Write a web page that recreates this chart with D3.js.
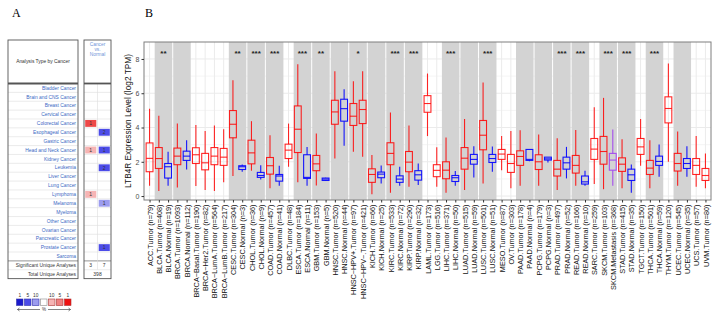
<!DOCTYPE html>
<html>
<head>
<meta charset="utf-8">
<script src="https://d3js.org/d3.v7.min.js"></script>
<style>
  body { margin: 0; background: #fff; }
  svg { display: block; font-family: "Liberation Sans", Arial, sans-serif; }
</style>
</head>
<body>
<div id="chart"></div>
<script>
// ---- panel B data: box stats per group (log2 TPM) ----
var categories = ["ACC.Tumor (n=79)", "BLCA.Tumor (n=408)", "BLCA.Normal (n=19)", "BRCA.Tumor (n=1093)", "BRCA.Normal (n=112)",
  "BRCA\u2212Basal.Tumor (n=190)", "BRCA\u2212Her2.Tumor (n=82)", "BRCA\u2212LumA.Tumor (n=564)", "BRCA\u2212LumB.Tumor (n=217)",
  "CESC.Tumor (n=304)", "CESC.Normal (n=3)", "CHOL.Tumor (n=36)", "CHOL.Normal (n=9)", "COAD.Tumor (n=457)", "COAD.Normal (n=41)",
  "DLBC.Tumor (n=48)", "ESCA.Tumor (n=184)", "ESCA.Normal (n=11)", "GBM.Tumor (n=153)", "GBM.Normal (n=5)",
  "HNSC.Tumor (n=520)", "HNSC.Normal (n=44)", "HNSC\u2212HPV+.Tumor (n=97)", "HNSC\u2212HPV\u2212.Tumor (n=421)",
  "KICH.Tumor (n=66)", "KICH.Normal (n=25)", "KIRC.Tumor (n=533)", "KIRC.Normal (n=72)", "KIRP.Tumor (n=290)", "KIRP.Normal (n=32)",
  "LAML.Tumor (n=173)", "LGG.Tumor (n=516)", "LIHC.Tumor (n=371)", "LIHC.Normal (n=50)", "LUAD.Tumor (n=515)", "LUAD.Normal (n=59)",
  "LUSC.Tumor (n=501)", "LUSC.Normal (n=51)", "MESO.Tumor (n=87)", "OV.Tumor (n=303)", "PAAD.Tumor (n=178)", "PAAD.Normal (n=4)",
  "PCPG.Tumor (n=179)", "PCPG.Normal (n=3)", "PRAD.Tumor (n=497)", "PRAD.Normal (n=52)", "READ.Tumor (n=166)", "READ.Normal (n=10)",
  "SARC.Tumor (n=259)", "SKCM.Tumor (n=103)", "SKCM.Metastasis (n=368)", "STAD.Tumor (n=415)", "STAD.Normal (n=35)",
  "TGCT.Tumor (n=150)", "THCA.Tumor (n=501)", "THCA.Normal (n=59)", "THYM.Tumor (n=120)", "UCEC.Tumor (n=545)",
  "UCEC.Normal (n=35)", "UCS.Tumor (n=57)", "UVM.Tumor (n=80)"];
var groupType = ["T","T","N","T","N","T","T","T","T","T","N","T","N","T","N","T","T","N","T","N",
  "T","N","T","T","T","N","T","N","T","N","T","T","T","N","T","N","T","N","T","T","T","N",
  "T","N","T","N","T","N","T","T","M","T","N","T","T","N","T","T","N","T","T"];
var whiskerLow = [0.6,0.3,0.6,0.5,1.55,0.58,0.35,0.3,0.8,1.17,1.42,1.48,0.97,0.45,0.6,1.71,0.8,0.6,0.62,0.9,
  2.19,2.93,2.58,2.29,0.1,0.74,0.2,0.6,0.54,0.64,3.5,0.54,0.2,0.6,0.35,1.09,0.74,1.42,1.51,0.45,0.6,2.03,
  0.6,1.96,0.35,1.03,0.6,0.6,0.7,0.4,0.6,0.45,0.2,1.77,0.45,1.13,2.0,0.6,1.13,0.54,0.45];
var q1 = [1.42,1.61,1.05,1.83,2.08,1.9,1.53,1.83,1.79,3.4,1.55,1.88,1.09,1.28,0.87,2.19,2.54,1.03,1.48,0.91,
  4.19,4.37,4.12,4.23,0.8,1.07,1.83,0.8,1.42,0.93,4.89,1.13,1.01,0.85,1.57,1.86,2.7,1.96,2.14,1.38,1.79,2.08,
  1.55,2.1,1.17,1.57,1.34,0.7,2.14,1.86,1.51,1.44,0.91,2.43,1.26,1.79,4.27,1.46,1.61,1.26,0.91];
var median = [2.2,2.19,1.71,2.33,2.33,2.41,1.94,2.33,2.27,4.19,1.71,2.52,1.2,1.77,1.17,2.68,3.9,1.09,1.88,0.99,
  4.91,5.1,4.66,5.05,1.26,1.28,2.49,0.99,1.98,1.24,5.4,1.5,1.51,1.07,2.21,2.14,3.55,2.19,2.45,1.9,2.31,2.14,
  2.0,2.17,1.57,1.94,1.79,0.83,2.74,2.6,2.1,1.86,1.24,2.87,1.63,2.02,5.11,1.9,1.9,1.79,1.2];
var q3 = [3.1,2.83,1.9,2.8,2.62,2.82,2.49,2.83,2.78,4.99,1.77,3.26,1.38,2.25,1.26,3.03,5.26,2.41,2.37,1.05,
  5.59,5.65,5.4,5.59,1.59,1.4,3.11,1.18,2.6,1.48,5.86,1.83,2.0,1.2,2.83,2.43,4.41,2.43,2.72,2.43,2.64,2.72,
  2.41,2.27,2.08,2.27,2.37,1.17,3.36,3.48,2.49,2.23,1.57,3.36,2.08,2.33,5.79,2.49,2.19,2.19,1.61];
var whiskerHigh = [5.1,4.68,2.58,4.23,3.26,4.14,3.79,4.12,3.9,6.76,1.84,4.37,1.8,3.55,1.77,4.23,7.69,2.87,3.65,1.07,
  7.28,6.23,6.7,7.28,2.39,1.79,4.87,1.71,4.12,1.9,7.15,2.85,3.42,1.46,4.49,2.91,6.62,2.89,3.5,3.79,3.84,2.72,
  3.59,2.27,3.38,2.87,3.86,1.48,5.18,5.73,3.88,3.32,1.84,4.49,3.26,3.01,7.73,3.77,2.91,3.5,2.49];
// first group index of each compared pair (gray band) and the stars over it
var pairStart = [1,3,9,11,13,16,18,20,22,24,26,28,32,34,36,40,42,44,46,49,51,54,57];
var starPair = [1,9,11,13,16,18,22,26,28,32,36,44,46,49,51,54];
var starText = ["**","**","***","***","***","**","*","***","***","***","***","***","***","***","***","***"];
var yTicks = [0,2,4,6,8];

// ---- panel A data: Oncomine summary table ----
var cancerTypes = ["Bladder Cancer","Brain and CNS Cancer","Breast Cancer","Cervical Cancer","Colorectal Cancer",
  "Esophageal Cancer","Gastric Cancer","Head and Neck Cancer","Kidney Cancer","Leukemia","Liver Cancer","Lung Cancer",
  "Lymphoma","Melanoma","Myeloma","Other Cancer","Ovarian Cancer","Pancreatic Cancer","Prostate Cancer","Sarcoma"];
var upCounts   = [0,0,0,0,1,0,0,1,0,0,0,0,1,0,0,0,0,0,0,0];
var upShade    = [0,0,0,0,3,0,0,1,0,0,0,0,1,0,0,0,0,0,0,0];
var downCounts = [0,0,0,0,0,2,0,1,0,2,0,0,0,1,0,0,0,0,1,0];
var downShade  = [0,0,0,0,0,2,0,2,0,2,0,0,0,1,0,0,0,0,2,0];
var sigUnique = [3,7];
var totalUnique = 398;
var legendLabels = ["1","5","10","","10","5","1"];

var W = 721, H = 319;
var svg = d3.select("#chart").append("svg").attr("width", W).attr("height", H);

var redShades = ["#fff","#f6b4b4","#f08080","#ee4848"];
var blueShades = ["#fff","#9c9cef","#4c4ce8","#1a1acc"];

// ===== panel A =====
svg.append("text").attr("x", 12).attr("y", 17).text("A")
  .style("font-family", "'Liberation Serif', serif").style("font-size", "12px");

var tTop = 40, tHead = 83.5, rowH = 8.87;
var tBottom = tHead + rowH * (cancerTypes.length + 2);
var lx0 = 8, lx1 = 78, rx0 = 84, rx1 = 111, rmid = 97.5;
var gA = svg.append("g");

// row separators
cancerTypes.concat(["", ""]).forEach(function(d, i) {
  if (i == 0) return;
  var yy = tHead + i * rowH;
  var strong = i == cancerTypes.length;
  [[lx0, lx1], [rx0, rx1]].forEach(function(b) {
    gA.append("line").attr("x1", b[0]).attr("x2", b[1]).attr("y1", yy).attr("y2", yy)
      .attr("stroke", strong ? "#888" : "#ddd").attr("stroke-width", strong ? 0.9 : 0.6);
  });
});
gA.append("line").attr("x1", rmid).attr("x2", rmid).attr("y1", tHead).attr("y2", tHead + rowH * (cancerTypes.length + 1))
  .attr("stroke", "#ddd").attr("stroke-width", 0.6);

// coloured cells
cancerTypes.forEach(function(d, i) {
  var yy = tHead + i * rowH;
  if (upCounts[i] > 0) {
    gA.append("rect").attr("x", rx0 + 1.2).attr("y", yy + 1).attr("width", rmid - rx0 - 2.4).attr("height", rowH - 2)
      .attr("fill", redShades[upShade[i]]);
    gA.append("text").attr("x", (rx0 + rmid) / 2).attr("y", yy + rowH / 2 + 1.8).attr("text-anchor", "middle")
      .style("font-size", "5px").attr("fill", "#333").text(upCounts[i]);
  }
  if (downCounts[i] > 0) {
    gA.append("rect").attr("x", rmid + 1.2).attr("y", yy + 1).attr("width", rx1 - rmid - 2.4).attr("height", rowH - 2)
      .attr("fill", blueShades[downShade[i]]);
    gA.append("text").attr("x", (rmid + rx1) / 2).attr("y", yy + rowH / 2 + 1.8).attr("text-anchor", "middle")
      .style("font-size", "5px").attr("fill", "#333").text(downCounts[i]);
  }
  gA.append("text").attr("x", lx1 - 2).attr("y", yy + rowH / 2 + 1.7).attr("text-anchor", "end")
    .style("font-size", "4.9px").attr("fill", "#3a68c4").text(d);
});

var ySig = tHead + rowH * cancerTypes.length;
gA.append("text").attr("x", lx1 - 2).attr("y", ySig + rowH / 2 + 1.7).attr("text-anchor", "end")
  .style("font-size", "4.9px").attr("fill", "#333").text("Significant Unique Analyses");
gA.append("text").attr("x", lx1 - 2).attr("y", ySig + rowH * 1.5 + 1.7).attr("text-anchor", "end")
  .style("font-size", "4.9px").attr("fill", "#333").text("Total Unique Analyses");
gA.append("text").attr("x", (rx0 + rmid) / 2).attr("y", ySig + rowH / 2 + 1.8).attr("text-anchor", "middle")
  .style("font-size", "5px").attr("fill", "#333").text(sigUnique[0]);
gA.append("text").attr("x", (rmid + rx1) / 2).attr("y", ySig + rowH / 2 + 1.8).attr("text-anchor", "middle")
  .style("font-size", "5px").attr("fill", "#333").text(sigUnique[1]);
gA.append("text").attr("x", (rx0 + rx1) / 2).attr("y", ySig + rowH * 1.5 + 1.8).attr("text-anchor", "middle")
  .style("font-size", "5px").attr("fill", "#333").text(totalUnique);

// headers and frames
gA.append("text").attr("x", (lx0 + lx1) / 2).attr("y", 63).attr("text-anchor", "middle")
  .style("font-size", "4.9px").attr("fill", "#333").text("Analysis Type by Cancer");
["Cancer", "vs.", "Normal"].forEach(function(t, i) {
  gA.append("text").attr("x", (rx0 + rx1) / 2).attr("y", 46 + i * 5).attr("text-anchor", "middle")
    .style("font-size", "4.8px").attr("fill", "#6f95d8").text(t);
});
[[lx0, lx1], [rx0, rx1]].forEach(function(b) {
  gA.append("rect").attr("x", b[0]).attr("y", tTop).attr("width", b[1] - b[0]).attr("height", tBottom - tTop)
    .attr("fill", "none").attr("stroke", "#555").attr("stroke-width", 0.9);
  gA.append("line").attr("x1", b[0]).attr("x2", b[1]).attr("y1", tHead).attr("y2", tHead)
    .attr("stroke", "#555").attr("stroke-width", 1.8);
});

// legend
var legColors = [blueShades[3], blueShades[2], blueShades[1], "#fff", redShades[1], redShades[2], "#f01010"];
legColors.forEach(function(c, i) {
  var lxx = 16.5 + i * 8;
  gA.append("rect").attr("x", lxx).attr("y", 299).attr("width", 6.5).attr("height", 6.5)
    .attr("fill", c).attr("stroke", i < 3 ? "#3333aa" : (i == 3 ? "#888" : "#aa3333")).attr("stroke-width", 0.6);
  gA.append("text").attr("x", lxx + 3.25).attr("y", 296.5).attr("text-anchor", "middle")
    .style("font-size", "4.8px").attr("fill", "#333").text(legendLabels[i]);
});
gA.append("path").attr("d", "M40,309.5H17.5M19.5,308L17.5,309.5L19.5,311").attr("fill", "none").attr("stroke", "#333").attr("stroke-width", 0.6);
gA.append("path").attr("d", "M48,309.5H70.5M68.5,308L70.5,309.5L68.5,311").attr("fill", "none").attr("stroke", "#333").attr("stroke-width", 0.6);
gA.append("text").attr("x", 44).attr("y", 311).attr("text-anchor", "middle")
  .style("font-size", "4.5px").attr("fill", "#333").text("%");

// ===== panel B =====
svg.append("text").attr("x", 145).attr("y", 17).text("B")
  .style("font-family", "'Liberation Serif', serif").style("font-size", "12px");

var pl = 144, pr = 711, pt = 42, pb = 200;
var x = d3.scalePoint().domain(categories).range([pl, pr]).padding(0.6);
var y = d3.scaleLinear().domain([-0.23, 8.99]).range([pb, pt]);
var step = x.step();
var bw = step * 0.74;

var g = svg.append("g");

// grid
d3.range(0, 9).forEach(function(v) {
  g.append("line").attr("x1", pl).attr("x2", pr).attr("y1", y(v)).attr("y2", y(v))
    .attr("stroke", "#ebebeb").attr("stroke-width", v % 2 == 0 ? 1 : 0.5);
});
categories.forEach(function(c) {
  g.append("line").attr("x1", x(c)).attr("x2", x(c)).attr("y1", pt).attr("y2", pb)
    .attr("stroke", "#ebebeb").attr("stroke-width", 1);
});

// gray bands for paired comparisons
pairStart.forEach(function(s) {
  var x0 = x(categories[s]) - step / 2, x1 = x(categories[s + 1]) + step / 2;
  g.append("rect").attr("x", x0 + 0.5).attr("y", pt).attr("width", x1 - x0 - 1).attr("height", pb - pt)
    .attr("fill", "#d3d3d3");
});

// boxplots
var colorOf = { T: "#ff0000", N: "#0000ff", M: "#a040f0" };
categories.forEach(function(c, i) {
  var cx = x(c), col = colorOf[groupType[i]];
  var bg = g.append("g").attr("stroke", col).attr("stroke-width", 1.1).attr("fill", "none")
    .attr("stroke-opacity", groupType[i] == "T" ? 0.85 : 0.9);
  bg.append("line").attr("x1", cx).attr("x2", cx).attr("y1", y(whiskerHigh[i])).attr("y2", y(q3[i]));
  bg.append("line").attr("x1", cx).attr("x2", cx).attr("y1", y(q1[i])).attr("y2", y(whiskerLow[i]));
  bg.append("rect").attr("x", cx - bw / 2).attr("y", y(q3[i])).attr("width", bw)
    .attr("height", Math.max(0.5, y(q1[i]) - y(q3[i])));
  bg.append("line").attr("x1", cx - bw / 2).attr("x2", cx + bw / 2).attr("y1", y(median[i])).attr("y2", y(median[i]));
});

// significance stars
starPair.forEach(function(s, i) {
  var cx = (x(categories[s]) + x(categories[s + 1])) / 2;
  g.append("text").attr("x", cx).attr("y", 56).attr("text-anchor", "middle")
    .style("font-size", "8px").style("font-weight", "bold").attr("fill", "#222").text(starText[i]);
});

// frame
g.append("rect").attr("x", pl).attr("y", pt).attr("width", pr - pl).attr("height", pb - pt)
  .attr("fill", "none").attr("stroke", "#7f7f7f").attr("stroke-width", 1);

// axes
var yAxis = svg.append("g").attr("transform", "translate(" + pl + ",0)")
  .call(d3.axisLeft(y).tickValues(yTicks).tickSize(2.5).tickPadding(2));
yAxis.select(".domain").remove();
yAxis.selectAll("line").attr("stroke", "#333");
yAxis.selectAll("text").style("font-size", "7px").attr("fill", "#4d4d4d").style("font-family", "'Liberation Sans', Arial, sans-serif");

var xAxis = svg.append("g").attr("transform", "translate(0," + pb + ")")
  .call(d3.axisBottom(x).tickSize(2.5).tickPadding(2));
xAxis.select(".domain").remove();
xAxis.selectAll("line").attr("stroke", "#333");
xAxis.selectAll("text")
  .style("font-size", "7.3px").attr("fill", "#111").style("font-family", "'Liberation Sans', Arial, sans-serif")
  .attr("text-anchor", "end")
  .attr("transform", "rotate(-90)")
  .attr("x", -4.5).attr("y", 0).attr("dy", "0.35em");

svg.append("text")
  .attr("transform", "translate(131," + ((pt + pb) / 2) + ") rotate(-90)")
  .attr("text-anchor", "middle")
  .style("font-size", "8.3px").attr("fill", "#111")
  .text("LTB4R Expression Level (log2 TPM)");
</script>
</body>
</html>
